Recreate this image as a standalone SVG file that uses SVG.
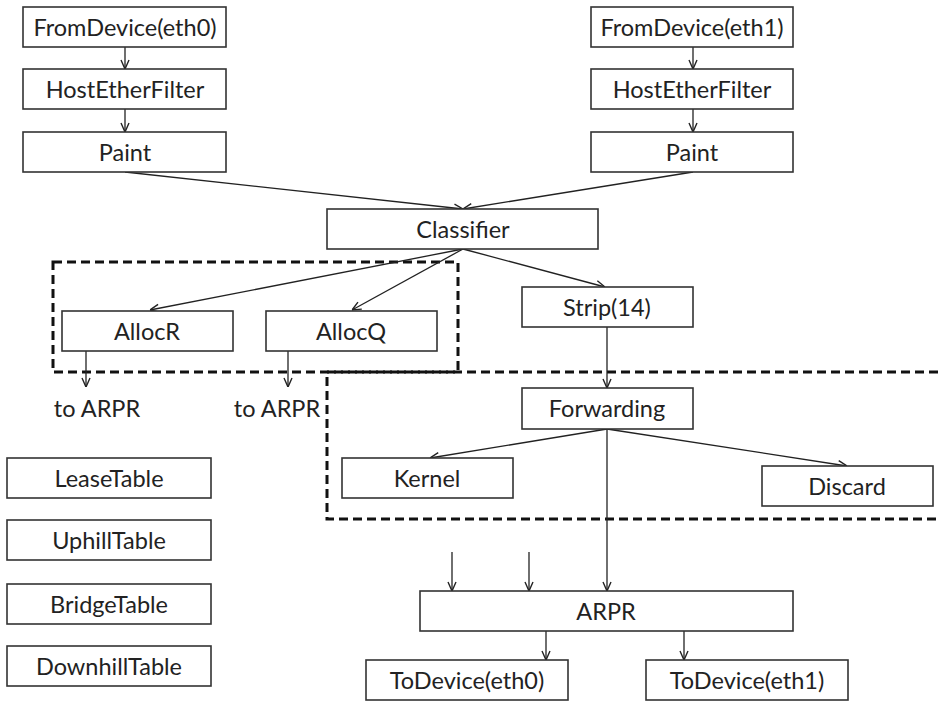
<svg xmlns="http://www.w3.org/2000/svg" width="941" height="704" viewBox="0 0 941 704">
<defs>
<marker id="arr" viewBox="0 0 10 10" refX="10" refY="5" markerWidth="10" markerHeight="10" markerUnits="userSpaceOnUse" orient="auto">
<path d="M1,1 L10,5 L1,9" fill="none" stroke="#222" stroke-width="1.4"/>
</marker>
<style>
.box{fill:#fff;stroke:#333;stroke-width:1.6}
.lbl{font-family:Lato,"Open Sans",sans-serif;font-size:23.5px;fill:#222;text-anchor:middle}
.c{fill:none;stroke:#222;stroke-width:1.3;marker-end:url(#arr)}
.dash{fill:none;stroke:#111;stroke-width:3;stroke-dasharray:9 5}
</style>
</defs>
<rect width="941" height="704" fill="#fff"/>
<g id="regions">
<rect class="dash" x="327" y="372" width="700" height="147"/>
<rect class="dash" x="53" y="262" width="405" height="110"/>
</g>
<g id="connectors">
<line class="c" x1="125" y1="47" x2="125" y2="69"/>
<line class="c" x1="125" y1="109" x2="125" y2="132"/>
<line class="c" x1="693" y1="47" x2="693" y2="69"/>
<line class="c" x1="693" y1="109" x2="693" y2="132"/>
<line class="c" x1="125" y1="172" x2="463" y2="209"/>
<line class="c" x1="693" y1="172" x2="463" y2="209"/>
<line class="c" x1="463" y1="249" x2="150" y2="310"/>
<line class="c" x1="463" y1="249" x2="352" y2="310"/>
<line class="c" x1="463" y1="249" x2="605" y2="287"/>
<line class="c" x1="86" y1="351" x2="86" y2="387"/>
<line class="c" x1="288" y1="351" x2="288" y2="387"/>
<line class="c" x1="607" y1="327" x2="607" y2="388"/>
<line class="c" x1="607" y1="429" x2="430" y2="458"/>
<line class="c" x1="607" y1="429" x2="847" y2="466"/>
<line class="c" x1="607" y1="429" x2="607" y2="591"/>
<line class="c" x1="452" y1="552" x2="452" y2="591"/>
<line class="c" x1="529" y1="552" x2="529" y2="591"/>
<line class="c" x1="546" y1="631" x2="546" y2="660"/>
<line class="c" x1="684" y1="631" x2="684" y2="660"/>
</g>
<g id="fromdev0"><rect class="box" x="23" y="7" width="203" height="40"/><text class="lbl" x="125" y="35.5">FromDevice(eth0)</text></g>
<g id="hef0"><rect class="box" x="23" y="69" width="203" height="40"/><text class="lbl" x="125" y="97.5">HostEtherFilter</text></g>
<g id="paint0"><rect class="box" x="23" y="132" width="203" height="40"/><text class="lbl" x="125" y="160.5">Paint</text></g>
<g id="fromdev1"><rect class="box" x="591" y="7" width="202" height="40"/><text class="lbl" x="692" y="35.5">FromDevice(eth1)</text></g>
<g id="hef1"><rect class="box" x="591" y="69" width="202" height="40"/><text class="lbl" x="692" y="97.5">HostEtherFilter</text></g>
<g id="paint1"><rect class="box" x="591" y="132" width="202" height="40"/><text class="lbl" x="692" y="160.5">Paint</text></g>
<g id="classifier"><rect class="box" x="327" y="209" width="271" height="40"/><text class="lbl" x="463" y="237.5">Classifier</text></g>
<g id="allocr"><rect class="box" x="62" y="311" width="171" height="40"/><text class="lbl" x="147" y="339.5">AllocR</text></g>
<g id="allocq"><rect class="box" x="266" y="311" width="171" height="40"/><text class="lbl" x="351" y="339.5">AllocQ</text></g>
<g id="strip"><rect class="box" x="522" y="287" width="171" height="40"/><text class="lbl" x="607" y="315.5">Strip(14)</text></g>
<g id="forwarding"><rect class="box" x="522" y="388" width="171" height="41"/><text class="lbl" x="607" y="416.5">Forwarding</text></g>
<g id="kernel"><rect class="box" x="342" y="458" width="171" height="40"/><text class="lbl" x="427" y="486.5">Kernel</text></g>
<g id="discard"><rect class="box" x="762" y="466" width="171" height="40"/><text class="lbl" x="847" y="494.5">Discard</text></g>
<g id="arpr"><rect class="box" x="420" y="591" width="373" height="40"/><text class="lbl" x="606" y="619.5">ARPR</text></g>
<g id="todev0"><rect class="box" x="366" y="660" width="202" height="40"/><text class="lbl" x="467" y="688.5">ToDevice(eth0)</text></g>
<g id="todev1"><rect class="box" x="646" y="660" width="202" height="40"/><text class="lbl" x="747" y="688.5">ToDevice(eth1)</text></g>
<g id="toarpr1"><text class="lbl" x="97" y="416.5">to ARPR</text></g>
<g id="toarpr2"><text class="lbl" x="277" y="416.5">to ARPR</text></g>
<g id="leasetable"><rect class="box" x="7" y="458" width="204" height="40"/><text class="lbl" x="109" y="486.5">LeaseTable</text></g>
<g id="uphilltable"><rect class="box" x="7" y="520" width="204" height="40"/><text class="lbl" x="109" y="548.5">UphillTable</text></g>
<g id="bridgetable"><rect class="box" x="7" y="584" width="204" height="40"/><text class="lbl" x="109" y="612.5">BridgeTable</text></g>
<g id="downhilltable"><rect class="box" x="7" y="646" width="204" height="40"/><text class="lbl" x="109" y="674.5">DownhillTable</text></g>
</svg>
